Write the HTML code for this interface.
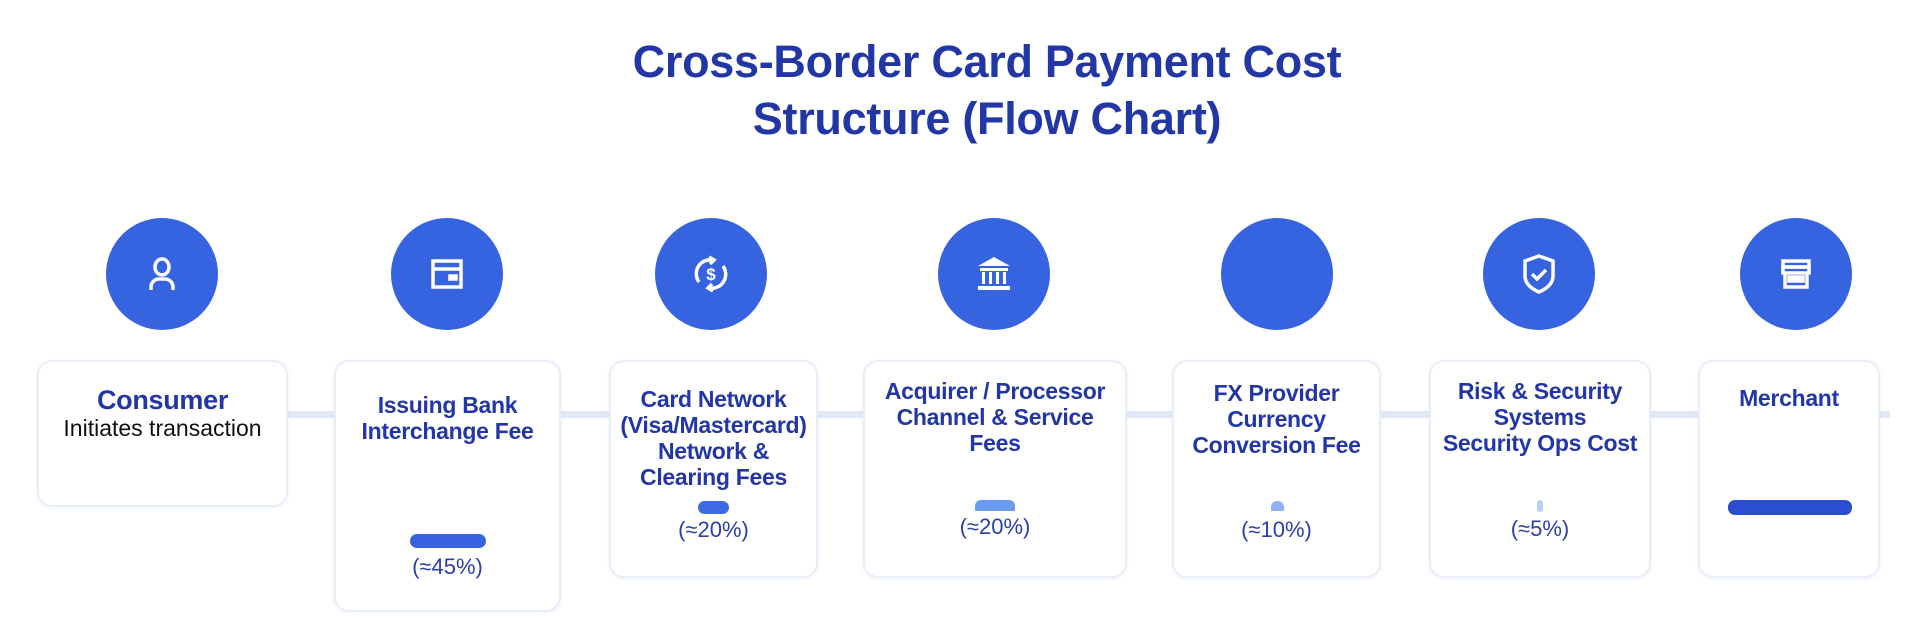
<!DOCTYPE html>
<html><head><meta charset="utf-8"><style>
*{margin:0;padding:0;box-sizing:border-box}
body{width:1920px;height:640px;background:#fff;position:relative;overflow:hidden;font-family:"Liberation Sans",Arial,sans-serif}
.title{position:absolute;left:537px;width:900px;top:33px;text-align:center;color:#2336a6;font-weight:bold;font-size:45px;line-height:57px;letter-spacing:-0.3px}
.line{position:absolute;top:411px;height:7px;background:#e1e9f8;left:280px;width:1610px}
.circ{position:absolute;width:112px;height:112px;border-radius:50%;background:#3663e0;top:218px;display:flex;align-items:center;justify-content:center}
.card{position:absolute;top:360px;background:#fff;border:2px solid #e7edf9;border-radius:15px;box-shadow:0 1px 4px rgba(60,90,170,0.08)}
.t{position:absolute;left:-10px;right:-10px;text-align:center;color:#2336a6;font-weight:bold;font-size:23px;line-height:26px;letter-spacing:-0.3px}
.p{position:absolute;left:0;right:0;text-align:center;color:#2a3fa8;font-size:22px;line-height:26px}
.bar{position:absolute;border-radius:7px}
</style></head><body>
<div class="title">Cross-Border Card Payment Cost<br>Structure (Flow Chart)</div>
<div class="line"></div>

<div class="circ" style="left:106px"><svg width="40" height="40" viewBox="0 0 40 40" fill="none" stroke="#fff" stroke-width="3.5"><ellipse cx="20" cy="13" rx="7" ry="8"/><path d="M9 36 v-3 a8 8 0 0 1 8-8 h6 a8 8 0 0 1 8 8 v3"/></svg></div>
<div class="circ" style="left:391px"><svg width="40" height="40" viewBox="0 0 40 40" fill="none" stroke="#fff" stroke-width="3.5"><rect x="6" y="7" width="28" height="26"/><line x1="6" y1="15" x2="34" y2="15"/><rect x="23" y="22" width="6" height="3" fill="#fff"/></svg></div>
<div class="circ" style="left:655px"><svg width="44" height="44" viewBox="0 0 44 44" fill="none" stroke="#fff" stroke-width="3.5"><path d="M10 30 A14 14 0 0 1 24 8"/><path d="M34 14 A14 14 0 0 1 20 36"/><path d="M20 5 l5 3 -4 4" /><path d="M24 39 l-5 -3 4 -4"/><text x="22" y="28" font-size="17" font-weight="bold" fill="#fff" stroke="none" text-anchor="middle" font-family="Liberation Sans">$</text></svg></div>
<div class="circ" style="left:938px"><svg width="44" height="44" viewBox="0 0 44 44" fill="#fff"><path d="M22 5 L38 14 H6 Z"/><rect x="8" y="16" width="28" height="3"/><rect x="10" y="20" width="3" height="12"/><rect x="17" y="20" width="3" height="12"/><rect x="24" y="20" width="3" height="12"/><rect x="31" y="20" width="3" height="12"/><rect x="6" y="34" width="32" height="4"/></svg></div>
<div class="circ" style="left:1221px"></div>
<div class="circ" style="left:1483px"><svg width="40" height="44" viewBox="0 0 40 44" fill="none" stroke="#fff" stroke-width="3.5"><path d="M20 4 L34 9 V24 C34 32 27 37 20 40 C13 37 6 32 6 24 V9 Z"/><path d="M13 22 l5 5 9-9"/></svg></div>
<div class="circ" style="left:1740px"><svg width="40" height="40" viewBox="0 0 40 40" fill="none" stroke="#fff" stroke-width="3.5"><rect x="7" y="7" width="26" height="6"/><rect x="7" y="13" width="26" height="6"/><path d="M9 19 V33 H31 V19"/><rect x="13" y="23" width="14" height="4" fill="#fff"/></svg></div>

<div class="card" style="left:37px;width:251px;height:147px">
 <div class="t" style="top:22px;font-size:27px;line-height:32px">Consumer</div>
 <div class="p" style="top:53px;color:#111;font-size:23px;left:-10px;right:-10px">Initiates transaction</div>
</div>
<div class="card" style="left:334px;width:227px;height:252px">
 <div class="t" style="top:30px">Issuing Bank<br>Interchange Fee</div>
 <div class="bar" style="left:74px;top:172px;width:76px;height:14px;background:#3763e0"></div>
 <div class="p" style="top:192px">(≈45%)</div>
</div>
<div class="card" style="left:609px;width:209px;height:218px">
 <div class="t" style="top:24px">Card Network<br>(Visa/Mastercard)<br>Network &amp;<br>Clearing Fees</div>
 <div class="bar" style="left:87px;top:139px;width:31px;height:13px;background:#3d6ae2"></div>
 <div class="p" style="top:155px">(≈20%)</div>
</div>
<div class="card" style="left:863px;width:264px;height:218px">
 <div class="t" style="top:16px">Acquirer / Processor<br>Channel &amp; Service<br>Fees</div>
 <div class="bar" style="left:110px;top:138px;width:40px;height:11px;background:#6b9af0;border-radius:6px 6px 1px 1px"></div>
 <div class="p" style="top:152px">(≈20%)</div>
</div>
<div class="card" style="left:1172px;width:209px;height:218px">
 <div class="t" style="top:18px">FX Provider<br>Currency<br>Conversion Fee</div>
 <div class="bar" style="left:97px;top:139px;width:13px;height:10px;background:#8fb3f2;border-radius:6px 6px 1px 1px"></div>
 <div class="p" style="top:155px">(≈10%)</div>
</div>
<div class="card" style="left:1429px;width:222px;height:218px">
 <div class="t" style="top:16px">Risk &amp; Security<br>Systems<br>Security Ops Cost</div>
 <div class="bar" style="left:106px;top:138px;width:6px;height:12px;background:#bcd0f6;border-radius:3px"></div>
 <div class="p" style="top:154px">(≈5%)</div>
</div>
<div class="card" style="left:1698px;width:182px;height:218px">
 <div class="t" style="top:23px">Merchant</div>
 <div class="bar" style="left:28px;top:138px;width:124px;height:15px;background:#2b4dd0"></div>
</div>
</body></html>
